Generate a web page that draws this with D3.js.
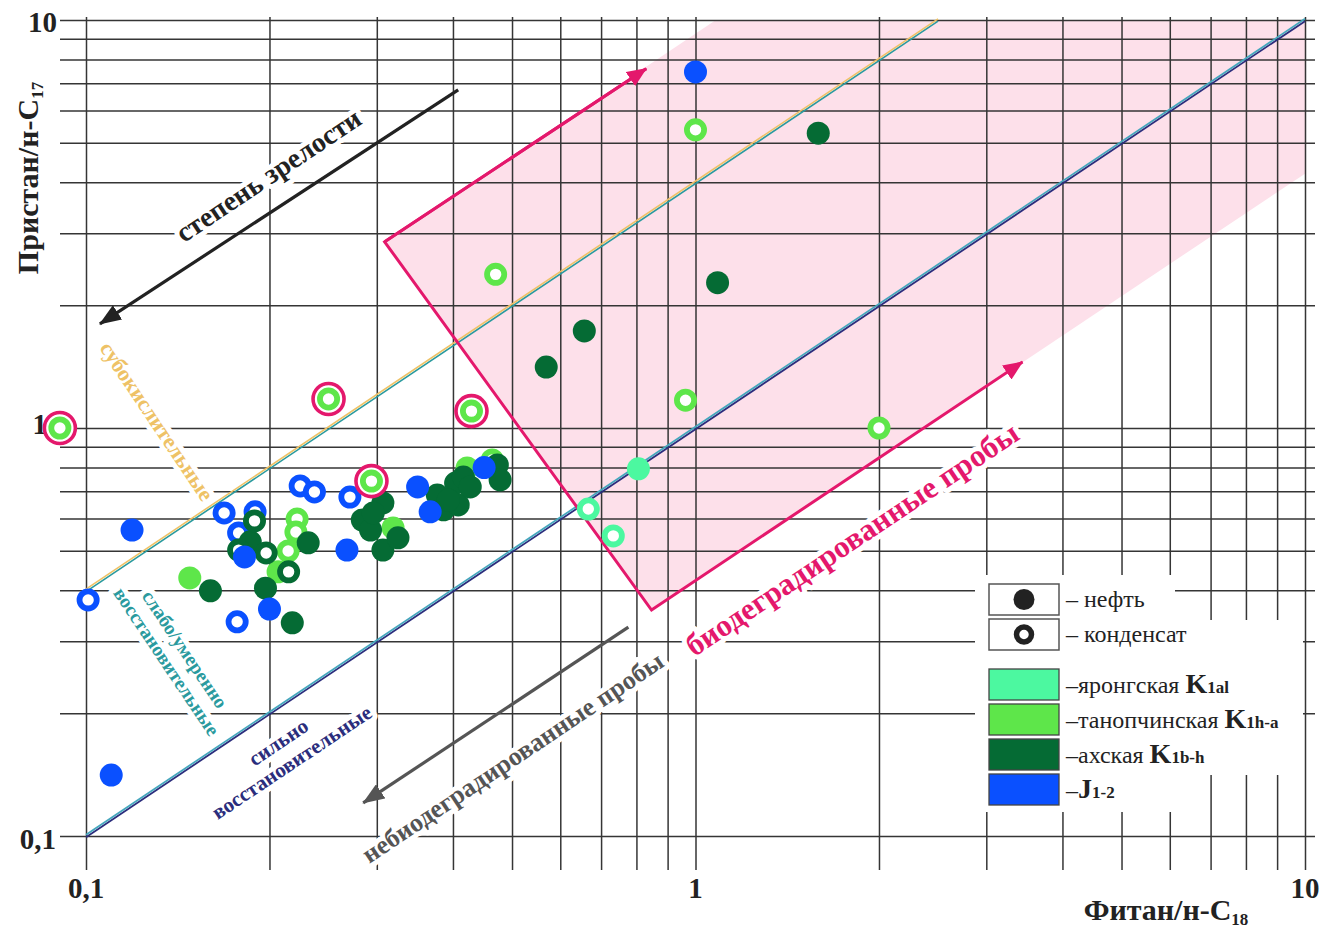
<!DOCTYPE html>
<html><head><meta charset="utf-8">
<script src="https://cdn.jsdelivr.net/npm/d3@7"></script>
<style>body{margin:0;background:#fff} svg{display:block;font-family:"Liberation Serif","Times New Roman",serif}</style>
</head><body>
<svg id="c" width="1341" height="928"></svg>
<script>
// ---------- data ----------
const xTickValues = [0.1, 1, 10];
const xTickLabels = ["0,1", "1", "10"];
const yTickValues = [0.1, 1, 10];
const yTickLabels = ["0,1", "1", "10"];

// J1-2 (blue)
const jOil  = [[1.0,7.46],[0.119,0.562],[0.11,0.141],[0.182,0.483],[0.2,0.36],[0.268,0.502],[0.35,0.717],[0.367,0.623],[0.45,0.80]];
const jCond = [[0.1008,0.379],[0.1685,0.619],[0.1894,0.623],[0.178,0.553],[0.177,0.335],[0.2246,0.721],[0.237,0.697],[0.271,0.677]];
// ахская K1b-h (dark green)
const akhOil = [[1.59,5.28],[1.087,2.27],[0.657,1.73],[0.569,1.41],
  [0.16,0.399],[0.197,0.405],[0.218,0.333],[0.2315,0.523],[0.186,0.526],
  [0.284,0.595],[0.293,0.562],[0.307,0.655],[0.296,0.619],[0.307,0.502],[0.325,0.538],
  [0.377,0.685],[0.386,0.63],[0.404,0.733],[0.416,0.758],[0.408,0.648],[0.427,0.717],[0.393,0.666],[0.473,0.812],[0.478,0.746]];
const akhCond = [[0.189,0.592],[0.1975,0.494],[0.215,0.444],[0.178,0.502]];
// танопчинская K1h-a (light green)
const tanOil  = [[0.148,0.429],[0.2066,0.444],[0.319,0.569],[0.422,0.798]];
const tanCond = [[0.222,0.598],[0.221,0.556],[0.2146,0.4995],[1.0,5.38],[0.47,2.38],[0.963,1.17],[2.0,1.0],[0.464,0.835]];
const tanCondMarked = [[0.0906,1.0],[0.25,1.178],[0.294,0.741],[0.429,1.10]];
// яронгская K1al (aquamarine)
const yarOil  = [[0.806,0.794]];
const yarCond = [[0.667,0.633],[0.733,0.544]];

// boundary lines  (Pr/C17 = k * Ph/C18)
const oxicLine    = [[0.1,0.4],[2.5,10]];
const reducLine   = [[0.1,0.1],[10,10]];
// biodegradation zone
const bioZone     = [[0.309,2.86],[1.08,10],[10,10],[10,4.2],[0.847,0.358]];
const bioFrame    = [[0.83,7.6],[0.309,2.86],[0.847,0.358],[3.44,1.452]];
const maturityArrow = [[0.408,6.74],[0.1054,1.80]];
const nonBioArrow   = [[0.776,0.325],[0.285,0.1205]];

const legendSymbols = ["нефть","конденсат"];
const legendNames = ["яронгская ","танопчинская ","ахская ",""];
const legendIndex = ["K","K","K","J"];
const legendSubs  = ["1al","1h-a","1b-h","1-2"];

// ---------- style ----------
const C = {yar:"#4cf8a0", tan:"#5ee64a", akh:"#056b34", j:"#0a50ff", mag:"#e4186c",
  grid:"#353535", pink:"#fde0ea", orange:"#eec266", teal:"#2a9a9e", navy:"#2b2d7c", lteal:"#45a6bd"};
const legendColors = [C.yar, C.tan, C.akh, C.j];

const svg = d3.select("#c");
const X = d3.scaleLog().domain([0.1,10]).range([86,1305]);
const Y = d3.scaleLog().domain([0.1,10]).range([836,20]);
const P = d => [X(d[0]), Y(d[1])];

const defs = svg.append("defs");
function marker(id,color,len,wid){
  defs.append("marker").attr("id",id).attr("viewBox",`0 0 ${len} ${wid}`)
    .attr("refX",len-1).attr("refY",wid/2).attr("markerWidth",len).attr("markerHeight",wid)
    .attr("markerUnits","userSpaceOnUse").attr("orient","auto")
    .append("path").attr("d",`M0,0L${len},${wid/2}L0,${wid}Z`).attr("fill",color);
}
marker("aBlack","#222",22,17);
marker("aGray","#555",22,17);
marker("aMag",C.mag,20,17);

// pink zone
svg.append("path").attr("d", d3.line()(bioZone.map(P)) + "Z").attr("fill", C.pink);

// grid via axes
const gy = svg.append("g").attr("transform","translate(60,0)")
  .call(d3.axisLeft(Y).tickSizeInner(-1255).tickSizeOuter(0).tickFormat(""));
const gx = svg.append("g").attr("transform","translate(0,870)")
  .call(d3.axisBottom(X).tickSizeInner(-853).tickSizeOuter(0).tickFormat(""));
[gx,gy].forEach(g=>{g.select(".domain").remove();
  g.selectAll(".tick line").attr("stroke",C.grid).attr("stroke-width",1.5);});

// legend white background
svg.append("path").attr("fill","#fff")
  .attr("d","M975,575H1175V620H1303V775H1185V812H975Z");

// halo labels
function label(lines, d, angle, size, color, lh, weight){
  const p = P(d);
  const t = svg.append("text").attr("transform",`translate(${p[0]},${p[1]}) rotate(${angle})`)
    .attr("text-anchor","middle").attr("font-size",size).attr("font-weight",weight||"bold")
    .attr("fill",color).attr("stroke","#fff").attr("stroke-width",10).attr("stroke-linejoin","round")
    .attr("paint-order","stroke");
  lines.forEach((s,i)=>t.append("tspan").attr("x",0).attr("y",(i*lh)+size*0.35).text(s));
  return t;
}
const ang = -Math.atan((Y(1)-Y(10))/(X(10)-X(1)))*180/Math.PI;
label(["степень зрелости"],[0.199,4.17],ang,28,"#222",0);
label(["субокислительные"],[0.1308,1.04],90+ang,22,C.orange,0);
label(["слабо/умеренно","восстановительные"],[0.1454,0.287],90+ang,19.5,C.teal,22);
label(["сильно","восстановительные"],[0.2067,0.170],ang,21,C.navy,24);
label(["небиодеградированные пробы"],[0.5006,0.156],ang,26,"#555",0);
label(["биодеградированные пробы"],[1.804,0.535],ang,31,C.mag,0);

// boundary lines (double-stroked)
function dbl(data, c1, c2, w){
  const p = data.map(P);
  svg.append("line").attr("x1",p[0][0]).attr("y1",p[0][1]+1.2).attr("x2",p[1][0]).attr("y2",p[1][1]+1.2)
    .attr("stroke",c2).attr("stroke-width",w);
  svg.append("line").attr("x1",p[0][0]).attr("y1",p[0][1]-1.2).attr("x2",p[1][0]).attr("y2",p[1][1]-1.2)
    .attr("stroke",c1).attr("stroke-width",w);
}
dbl(oxicLine, C.orange, C.teal, 1.6);
dbl(reducLine, C.lteal, C.navy, 1.8);

// bio frame
const bf = bioFrame.map(P);
svg.append("polyline").attr("points",bf.map(p=>p.join(",")).join(" ")).attr("fill","none")
  .attr("stroke",C.mag).attr("stroke-width",3).attr("stroke-linejoin","miter")
  .attr("marker-end","url(#aMag)");
svg.append("line").attr("x1",bf[1][0]).attr("y1",bf[1][1]).attr("x2",bf[0][0]).attr("y2",bf[0][1])
  .attr("stroke",C.mag).attr("stroke-width",3).attr("marker-end","url(#aMag)");

// arrows
function arrow(data,color,id){
  const p = data.map(P);
  svg.append("line").attr("x1",p[0][0]).attr("y1",p[0][1]).attr("x2",p[1][0]).attr("y2",p[1][1])
    .attr("stroke",color).attr("stroke-width",3.2).attr("marker-end",`url(#${id})`);
}
arrow(maturityArrow,"#222","aBlack");
arrow(nonBioArrow,"#555","aGray");

// tick labels
svg.append("g").selectAll("text").data(xTickValues).join("text")
  .attr("x",d=>X(d)).attr("y",898).attr("text-anchor","middle").attr("font-size",29).attr("font-weight","bold")
  .attr("fill","#222").text((d,i)=>xTickLabels[i]);
const yLabX = [56,47,57];
svg.append("g").selectAll("text").data(yTickValues).join("text")
  .attr("x",(d,i)=>yLabX[i]).attr("y",d=>Y(d)+(d===1?6:d===10?12:13)).attr("text-anchor","end").attr("font-size",29).attr("font-weight","bold")
  .attr("fill","#222").text((d,i)=>yTickLabels[i]);

// axis titles
const yt = svg.append("text").attr("transform","translate(38,178) rotate(-90)").attr("text-anchor","middle")
  .attr("font-size",30).attr("font-weight","bold").attr("fill","#222");
yt.append("tspan").text("Пристан/н-C");
yt.append("tspan").attr("font-size",17).attr("dy",5).text("17");
const xt = svg.append("text").attr("x",1166).attr("y",920).attr("text-anchor","middle")
  .attr("font-size",30).attr("font-weight","bold").attr("fill","#222");
xt.append("tspan").text("Фитан/н-C");
xt.append("tspan").attr("font-size",17).attr("dy",5).text("18");

// markers
const R = 11.5;
function oil(data,color){
  svg.append("g").selectAll("circle").data(data).join("circle")
    .attr("cx",d=>X(d[0])).attr("cy",d=>Y(d[1])).attr("r",R).attr("fill",color);
}
function cond(data,color){
  svg.append("g").selectAll("circle").data(data).join("circle")
    .attr("cx",d=>X(d[0])).attr("cy",d=>Y(d[1])).attr("r",R-2.9).attr("fill","#fff")
    .attr("stroke",color).attr("stroke-width",5.8);
}
oil(tanOil,C.tan);
cond(tanCond,C.tan);
cond(jCond,C.j);
oil(akhOil,C.akh);
cond(akhCond,C.akh);
oil(jOil,C.j);
oil(yarOil,C.yar);
cond(yarCond,C.yar);
svg.append("g").selectAll("circle").data(tanCondMarked).join("circle")
  .attr("cx",d=>X(d[0])).attr("cy",d=>Y(d[1])).attr("r",15.5).attr("fill","#fff")
  .attr("stroke",C.mag).attr("stroke-width",3.6);
cond(tanCondMarked,C.tan);

// legend
const lg = svg.append("g");
legendSymbols.forEach((s,i)=>{
  const y0 = 584 + i*35;
  lg.append("rect").attr("x",989).attr("y",y0).attr("width",70).attr("height",31)
    .attr("fill","#fff").attr("stroke","#555").attr("stroke-width",1.5);
  if(i===0) lg.append("circle").attr("cx",1024).attr("cy",y0+15.5).attr("r",10.5).attr("fill","#222");
  else lg.append("circle").attr("cx",1024).attr("cy",y0+15.5).attr("r",7.5).attr("fill","#fff").attr("stroke","#222").attr("stroke-width",5.5);
  lg.append("text").attr("x",1066).attr("y",y0+23).attr("font-size",24).attr("fill","#222").text("– "+s);
});
legendNames.forEach((s,i)=>{
  const y0 = 669 + i*35;
  lg.append("rect").attr("x",989).attr("y",y0).attr("width",70).attr("height",31)
    .attr("fill",legendColors[i]).attr("stroke","#444").attr("stroke-width",1.3);
  const t = lg.append("text").attr("x",1066).attr("y",y0+24).attr("font-size",24).attr("fill","#222");
  t.append("tspan").text("–"+s);
  t.append("tspan").attr("font-weight","bold").attr("font-size",28).text(legendIndex[i]);
  t.append("tspan").attr("font-weight","bold").attr("font-size",17).text(legendSubs[i]);
});
</script>
</body></html>
